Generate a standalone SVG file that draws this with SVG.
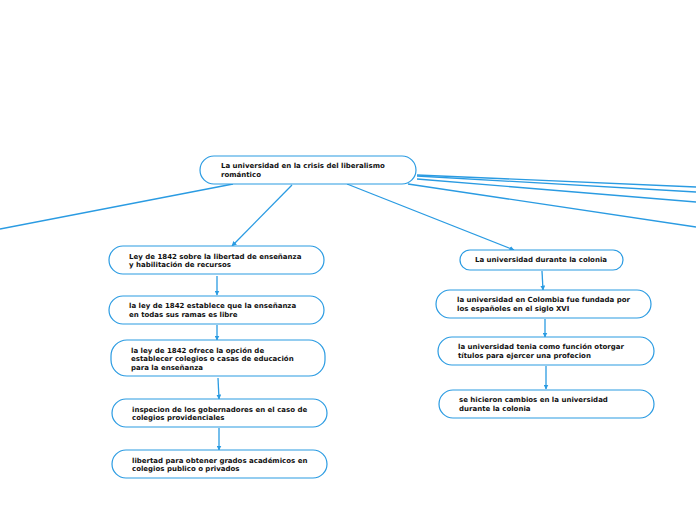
<svg xmlns="http://www.w3.org/2000/svg" width="696" height="520" viewBox="0 0 696 520">
<style>
.n{fill:#fff;stroke:#2a9be2;stroke-width:1.2}
.t{font-family:"DejaVu Sans",Verdana,sans-serif;font-weight:bold;font-size:7px;fill:#111}
.c{fill:none;stroke:#2a9be2;stroke-width:1.3}
</style>
<defs>
<marker id="a" viewBox="0 0 10 10" refX="9" refY="5" markerWidth="5" markerHeight="5" orient="auto" markerUnits="userSpaceOnUse">
<path d="M0,0L10,5L0,10z" fill="#2a9be2"/>
</marker>
</defs>
<rect width="696" height="520" fill="#fff"/>
<g id="connectors">
<path class="c" d="M233,184L0,229"/>
<path class="c" d="M417,175L696,187"/>
<path class="c" d="M417,176L696,192"/>
<path class="c" d="M417,179L696,202"/>
<path class="c" d="M408,184L696,227"/>
<path class="c" d="M292,185L232,246" marker-end="url(#a)"/>
<path class="c" d="M347,184L514,250" marker-end="url(#a)"/>
<path class="c" d="M217,276L217,295" marker-end="url(#a)"/>
<path class="c" d="M217,325L217,340" marker-end="url(#a)"/>
<path class="c" d="M218,378L219,399" marker-end="url(#a)"/>
<path class="c" d="M219,428L219,450" marker-end="url(#a)"/>
<path class="c" d="M542,271L543,290" marker-end="url(#a)"/>
<path class="c" d="M545,319L545,337" marker-end="url(#a)"/>
<path class="c" d="M546,366L546,389" marker-end="url(#a)"/>
</g>
<g id="root">
<rect class="n" x="200" y="156" width="216" height="28" rx="14"/>
<text class="t" x="221" y="168">La universidad en la crisis del liberalismo</text>
<text class="t" x="221" y="177">romántico</text>
</g>
<g id="ley1842">
<rect class="n" x="109" y="246" width="215" height="28" rx="14"/>
<text class="t" x="129" y="259">Ley de 1842 sobre la libertad de enseñanza</text>
<text class="t" x="129" y="267">y habilitación de recursos</text>
</g>
<g id="libre">
<rect class="n" x="109" y="296" width="215" height="28" rx="14"/>
<text class="t" x="129" y="308">la ley de 1842 establece que la enseñanza</text>
<text class="t" x="129" y="317">en todas sus ramas es libre</text>
</g>
<g id="opcion">
<rect class="n" x="111" y="340" width="214" height="36" rx="16"/>
<text class="t" x="131" y="353"> la ley de 1842 ofrece la opción de</text>
<text class="t" x="131" y="361">establecer colegios o casas de educación</text>
<text class="t" x="131" y="370">para la enseñanza</text>
</g>
<g id="inspecion">
<rect class="n" x="112" y="399" width="215" height="28" rx="14"/>
<text class="t" x="132" y="412">inspecion de los gobernadores en el caso de</text>
<text class="t" x="132" y="420">colegios providenciales</text>
</g>
<g id="grados">
<rect class="n" x="112" y="450" width="215" height="28" rx="14"/>
<text class="t" x="132" y="463">libertad para obtener grados académicos en</text>
<text class="t" x="132" y="471">colegios publico o privados</text>
</g>
<g id="colonia">
<rect class="n" x="460" y="250" width="163" height="20" rx="10"/>
<text class="t" x="541" y="262" text-anchor="middle">La universidad durante la colonia</text>
</g>
<g id="colombia">
<rect class="n" x="436" y="290" width="215" height="28" rx="14"/>
<text class="t" x="457" y="302">la universidad en Colombia fue fundada por</text>
<text class="t" x="457" y="311">los españoles en el siglo XVI</text>
</g>
<g id="funcion">
<rect class="n" x="438" y="337" width="216" height="28" rx="14"/>
<text class="t" x="458" y="349">la universidad tenia como función otorgar</text>
<text class="t" x="458" y="358">títulos para ejercer una profecion</text>
</g>
<g id="cambios">
<rect class="n" x="439" y="390" width="215" height="28" rx="14"/>
<text class="t" x="459" y="402">se hicieron cambios en la universidad</text>
<text class="t" x="459" y="411">durante la colonia</text>
</g>
</svg>
